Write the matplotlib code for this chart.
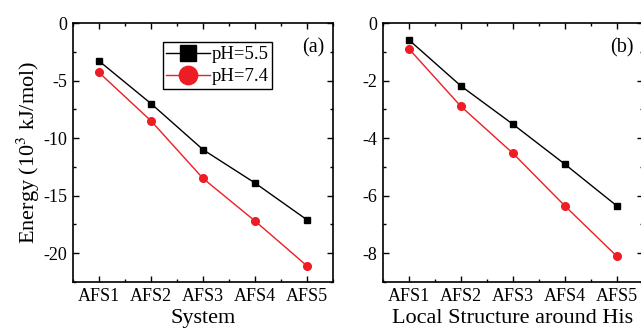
import numpy as np
import matplotlib.pyplot as plt
from matplotlib.ticker import MultipleLocator

plt.rcParams['font.family'] = ['Liberation Serif', 'DejaVu Serif']
plt.rcParams['mathtext.fontset'] = 'stix'

categories = ['AFS1', 'AFS2', 'AFS3', 'AFS4', 'AFS5']

# panel (a): whole system energy, 10^3 kJ/mol
sys_ph55 = [-3.3, -7.0, -11.0, -13.9, -17.1]
sys_ph74 = [-4.3, -8.5, -13.5, -17.2, -21.1]

# panel (b): local structure around His
loc_ph55 = [-0.59, -2.19, -3.52, -4.91, -6.36]
loc_ph74 = [-0.90, -2.90, -4.53, -6.36, -8.11]

red = '#ee1c24'
x = np.arange(1, len(categories) + 1)

fig = plt.figure(figsize=(6.41, 3.30), dpi=100)
W, H = 641, 330
ax1 = fig.add_axes([73 / W, 1 - 282 / H, 260 / W, 259 / H])
ax2 = fig.add_axes([383 / W, 1 - 282 / H, 260 / W, 259 / H])


def style(ax, ylim, major, minor, xlabel):
    ax.set_xlim(0.5, 5.5)
    ax.set_ylim(*ylim)
    ax.set_xticks(x)
    ax.set_xticklabels(categories)
    ax.xaxis.set_minor_locator(MultipleLocator(0.5))
    ax.yaxis.set_major_locator(MultipleLocator(major))
    ax.yaxis.set_minor_locator(MultipleLocator(minor))
    ax.tick_params(which='both', direction='in', top=True, right=True,
                   labelsize=13, width=1)
    ax.tick_params(which='major', length=4, pad=4)
    ax.tick_params(which='minor', length=2)
    ax.set_xlabel(xlabel, fontsize=16, labelpad=3)
    for s in ax.spines.values():
        s.set_linewidth(1.2)
    ax.yaxis.set_major_formatter(plt.FuncFormatter(lambda v, p: '%g' % v))


ax1.plot(x, sys_ph55, '-s', color='black', lw=1, ms=5, label='pH=5.5')
ax1.plot(x, sys_ph74, '-o', color=red, lw=1, ms=5.5, label='pH=7.4')
style(ax1, (-22.5, 0), 5, 2.5, 'System')
ax1.set_ylabel('Energy (10$^3$ kJ/mol)', fontsize=16, labelpad=1)
leg = ax1.legend(loc='upper left', bbox_to_anchor=(0.345, 0.925), fontsize=13.5,
                 markerscale=2.4, fancybox=False, edgecolor='black',
                 framealpha=1, borderpad=0.2, labelspacing=0.25,
                 handlelength=2.3, handletextpad=0.1, borderaxespad=0)
leg.get_frame().set_linewidth(1)
ax1.text(0.965, 0.885, '(a)', transform=ax1.transAxes, ha='right', fontsize=14.5)

ax2.plot(x, loc_ph55, '-s', color='black', lw=1, ms=5)
ax2.plot(x, loc_ph74, '-o', color=red, lw=1, ms=5.5)
style(ax2, (-9, 0), 2, 1, 'Local Structure around His')
ax2.text(0.965, 0.885, '(b)', transform=ax2.transAxes, ha='right', fontsize=14.5)

fig.savefig('out.png', dpi=100)
